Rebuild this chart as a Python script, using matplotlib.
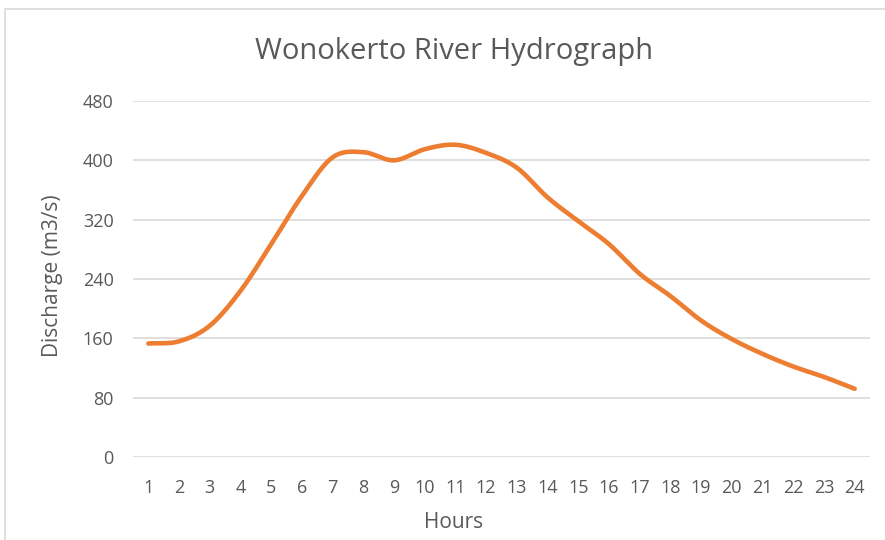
import numpy as np
import matplotlib
matplotlib.use("Agg")
import matplotlib.pyplot as plt
from matplotlib.patches import Rectangle

hours = list(range(1, 25))
discharge = [153, 156, 177, 224, 287, 352, 404, 411, 400, 415, 421, 410,
             390, 350, 318, 287, 247, 217, 184, 159, 139, 122, 108, 92]
yticks = [0, 80, 160, 240, 320, 400, 480]
title = "Wonokerto River Hydrograph"
xlabel = "Hours"
ylabel = "Discharge (m3/s)"

FONT = ["Open Sans", "DejaVu Sans"]
GRAY = "#595959"

def smooth(x, y, n=30):
    # Excel-like Catmull-Rom smoothing through the data points
    x = np.asarray(x, float); y = np.asarray(y, float)
    px = np.concatenate([[2 * x[0] - x[1]], x, [2 * x[-1] - x[-2]]])
    py = np.concatenate([[2 * y[0] - y[1]], y, [2 * y[-1] - y[-2]]])
    xs, ys = [], []
    t = np.linspace(0, 1, n, endpoint=False)
    for i in range(1, len(px) - 2):
        for P, out in ((px, xs), (py, ys)):
            p0, p1, p2, p3 = P[i - 1], P[i], P[i + 1], P[i + 2]
            seg = 0.5 * ((2 * p1) + (-p0 + p2) * t + (2 * p0 - 5 * p1 + 4 * p2 - p3) * t ** 2
                         + (-p0 + 3 * p1 - 3 * p2 + p3) * t ** 3)
            out.extend(seg)
    xs.append(x[-1]); ys.append(y[-1])
    return np.array(xs), np.array(ys)

fig = plt.figure(figsize=(8.85, 5.4), dpi=100)
fig.patches.append(Rectangle((5 / 885, -0.1), 1.2, 1 - 9 / 540 + 0.1,
                             transform=fig.transFigure, fill=False,
                             edgecolor="#D9D9D9", linewidth=1.2))

L, R, B, T = 133, 870, 457, 101
ax = fig.add_axes([L / 885, 1 - B / 540, (R - L) / 885, (B - T) / 540])
sx, sy = smooth(hours, discharge)
ax.plot(sx, sy, color="#ED7D31", linewidth=3.3, solid_capstyle="round", zorder=3)

ax.set_xlim(0.5, 24.5)
ax.set_ylim(0, 480)
ax.set_yticks(yticks)
ax.set_xticks(hours)
ax.set_xticklabels([str(h) for h in hours])
ax.yaxis.grid(True, color="#D9D9D9", linewidth=1.2)
ax.set_axisbelow(True)
for s in ax.spines.values():
    s.set_visible(False)
ax.tick_params(axis="both", length=0, colors=GRAY, labelsize=13)
ax.tick_params(axis="y", pad=14)
ax.tick_params(axis="x", pad=16)
for lab in ax.get_xticklabels() + ax.get_yticklabels():
    lab.set_family(FONT)

ax.set_xlabel(xlabel, fontsize=15, color=GRAY, family=FONT, va="center")
ax.xaxis.set_label_coords((454 - L) / (R - L), (B - 523) / (B - T))
ax.set_ylabel(ylabel, fontsize=15, color=GRAY, family=FONT, va="center")
ax.yaxis.set_label_coords((53 - L) / (R - L), (B - 276) / (B - T))
fig.text(454 / 885, 1 - 52 / 540, title, fontsize=21, color=GRAY, family=FONT,
         ha="center", va="center")

fig.savefig("out.png", dpi=100)
